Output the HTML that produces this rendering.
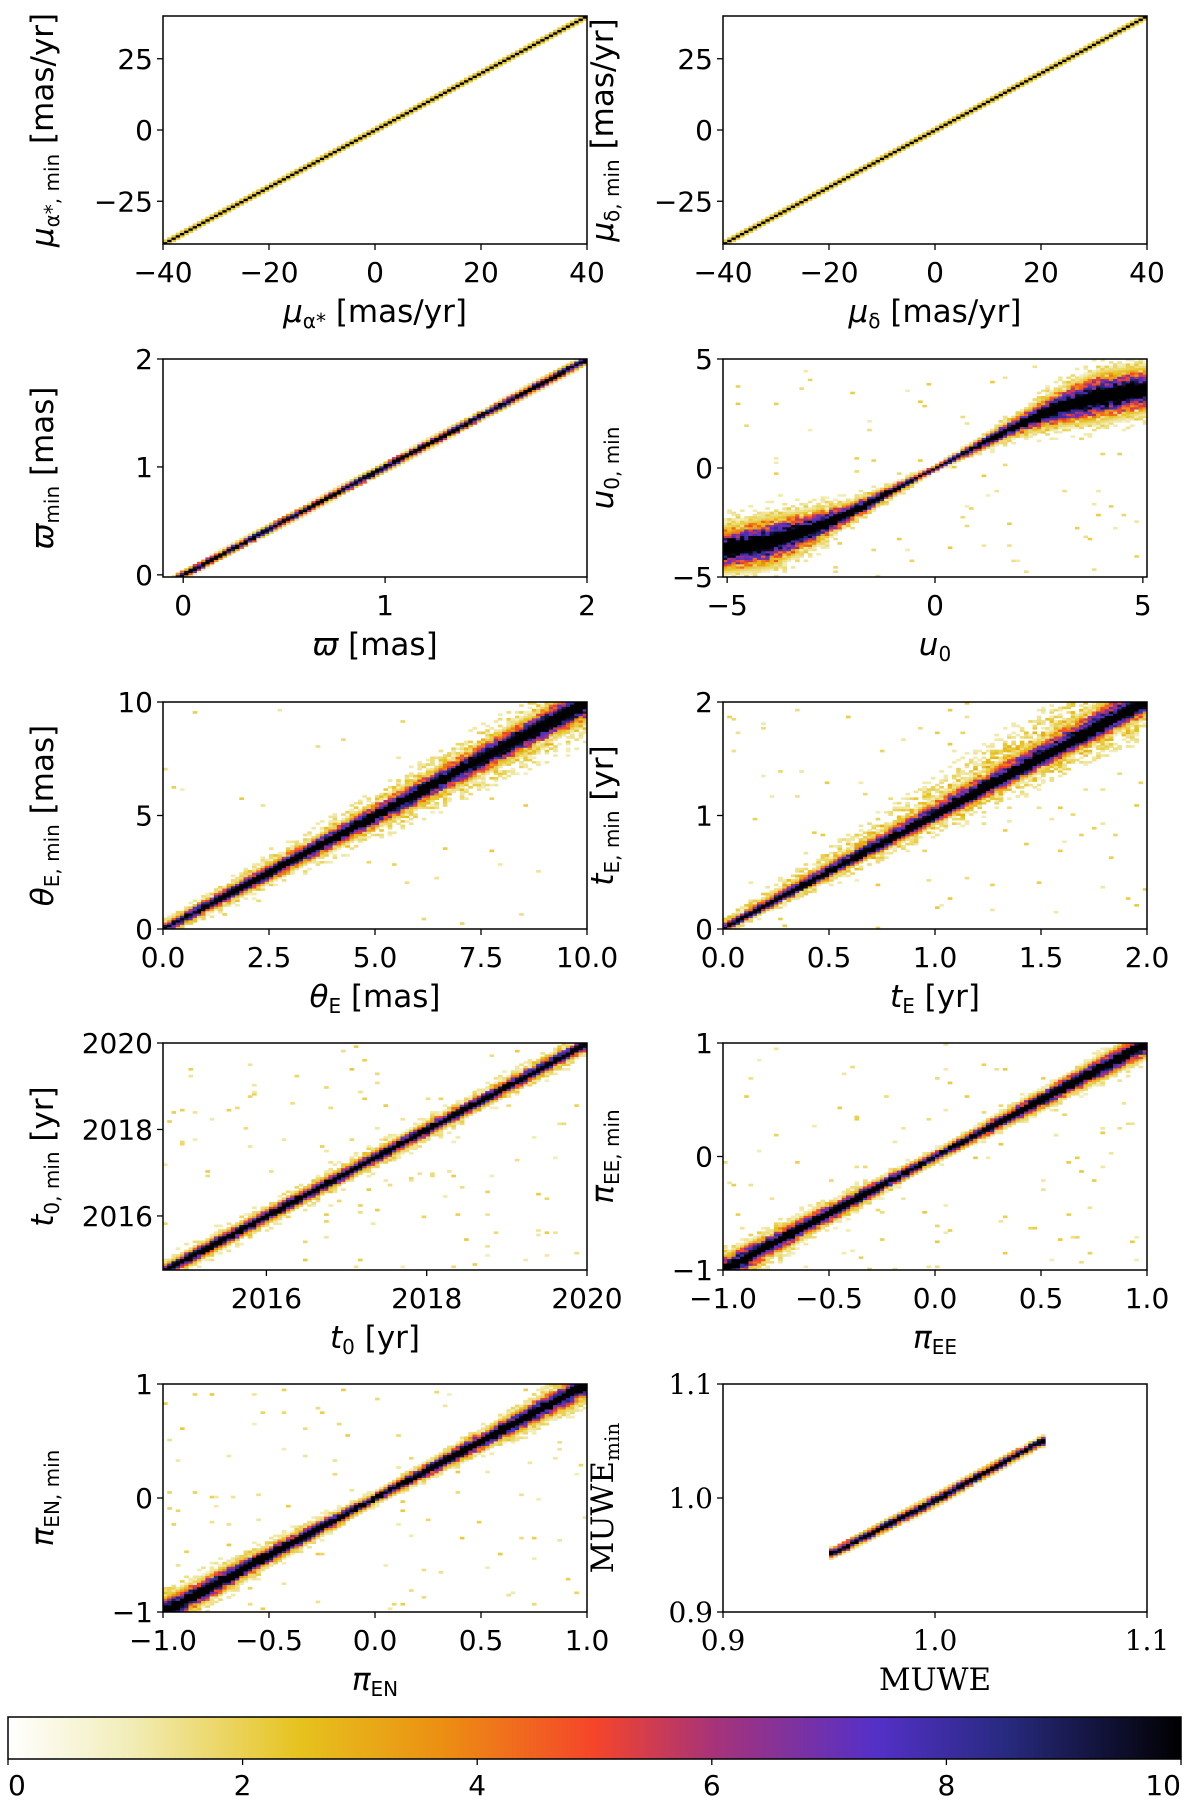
<!DOCTYPE html>
<html><head><meta charset="utf-8">
<style>
html,body{margin:0;padding:0;background:#fff;}
svg text{font-family:"DejaVu Sans","Liberation Sans",sans-serif;fill:#000;}
</style></head>
<body>
<svg id="fig" width="1200" height="1798" viewBox="0 0 1200 1798" xmlns="http://www.w3.org/2000/svg">
<defs>
<linearGradient id="cmap" x1="0" x2="1" y1="0" y2="0">
<stop offset="0" stop-color="#ffffff"/>
<stop offset="0.1" stop-color="#f2eebb"/>
<stop offset="0.25" stop-color="#e6c21e"/>
<stop offset="0.37" stop-color="#ec8f12"/>
<stop offset="0.5" stop-color="#f5452a"/>
<stop offset="0.6" stop-color="#a83378"/>
<stop offset="0.74" stop-color="#5430c8"/>
<stop offset="0.85" stop-color="#282a80"/>
<stop offset="1" stop-color="#000000"/>
</linearGradient>
</defs>
<g id="panels"></g>
<g>
<rect x="8" y="1717" width="1173" height="42" fill="url(#cmap)" stroke="#000" stroke-width="1.5"/>
<g id="cbticks"></g>
</g>
</svg>
<script>
// ---------- data ----------
const cbTicks = [0,2,4,6,8,10];

const p1Knots=[-40,40], p1Center=[-40,40], p1Core=[0.45,0.45], p1Halo=[1.0,1.0], p1Noise=0.0;
const p2Knots=[-40,40], p2Center=[-40,40], p2Core=[0.45,0.45], p2Halo=[1.0,1.0], p2Noise=0.0;
const p3Knots=[-0.1,0,2], p3Center=[-0.1,0,2], p3Core=[0.022,0.022,0.026], p3Halo=[0.05,0.05,0.06], p3Noise=0.0;
const p4Knots=[-5,-4,-3,-2,-1,0,1,2,3,4,5];
const p4Center=[-3.7,-3.4,-2.8,-2,-1,0,1,2,2.8,3.3,3.6];
const p4Core=[0.55,0.6,0.45,0.25,0.15,0.07,0.15,0.25,0.45,0.6,0.55];
const p4Halo=[1.9,1.9,1.5,0.9,0.5,0.25,0.5,0.9,1.5,1.9,1.9], p4Noise=0.01;
const p5Knots=[0,10], p5Center=[0,10], p5Core=[0.15,0.45], p5Halo=[0.5,2.0], p5Noise=0.003;
const p6Knots=[0,2], p6Center=[0,2], p6Core=[0.018,0.065], p6Halo=[0.07,0.35], p6Noise=0.01;
const p7Knots=[2014.7,2020], p7Center=[2014.7,2020], p7Core=[0.1,0.1], p7Halo=[0.38,0.38], p7Noise=0.012;
const p8Knots=[-1,0,1], p8Center=[-1,0,1], p8Core=[0.07,0.028,0.065], p8Halo=[0.26,0.08,0.2], p8Noise=0.01;
const p9Knots=[-1,0,1], p9Center=[-1,0,1], p9Core=[0.07,0.028,0.07], p9Halo=[0.26,0.08,0.24], p9Noise=0.01;
const p10Knots=[0.952,1.0,1.05], p10Center=[0.952,0.998,1.05], p10Core=[0.0025,0.003,0.0025], p10Halo=[0.006,0.006,0.006], p10Noise=0.0;

const tick40=[-40,-20,0,20,40], tickY25=[-25,0,25];
const tick02=[0,1,2], tick5=[-5,0,5], tick10=[0,2.5,5,7.5,10], tick10y=[0,5,10];
const tick2=[0,0.5,1,1.5,2], tick2y=[0,1,2], tickT=[2016,2018,2020], tickPi=[-1,-0.5,0,0.5,1], tickPiY=[-1,0,1];
const tickMu=[0.9,1.0,1.1];

// ---------- layout ----------
const L=[163,587], R=[723,1147];
const rows=[[16,244],[359,577],[702,929],[1043,1270],[1384,1612]];
const svgNS="http://www.w3.org/2000/svg";
function el(tag,attrs,parent){const e=document.createElementNS(svgNS,tag);for(const k in attrs)e.setAttribute(k,attrs[k]);parent.appendChild(e);return e;}

const cstops=[[0,[255,255,255]],[1,[242,238,187]],[2.5,[230,194,30]],[3.7,[236,143,18]],[5,[245,69,42]],[6,[168,51,120]],[7.4,[84,48,200]],[8.5,[40,42,128]],[10,[0,0,0]]];
function cmap(v){v=Math.max(0,Math.min(10,v));for(let i=1;i<cstops.length;i++){if(v<=cstops[i][0]){const a=cstops[i-1],b=cstops[i];const t=(v-a[0])/(b[0]-a[0]);return 'rgb('+a[1].map((c,k)=>Math.round(c+(b[1][k]-c)*t)).join(',')+')';}}return '#000';}
function interp(xs,ys,x){if(x<=xs[0])return ys[0];for(let i=1;i<xs.length;i++){if(x<=xs[i]){const t=(x-xs[i-1])/(xs[i]-xs[i-1]);return ys[i-1]+(ys[i]-ys[i-1])*t;}}return ys[ys.length-1];}
function hash(i,j,s){let h=(i*374761393+j*668265263+s*2147483647)|0;h=(h^(h>>>13))*1274126177|0;h=h^(h>>>16);return ((h>>>0)%10000)/10000;}

const panels=[
 {name:'mu-alpha',px:L,py:rows[0],xd:[-40,40],yd:[-40,40],xt:tick40,yt:tickY25,knots:p1Knots,center:p1Center,core:p1Core,halo:p1Halo,noise:p1Noise,
  xl:'<tspan font-style="italic">μ</tspan><tspan font-size="20" dy="6">α*</tspan><tspan dy="-6"> [mas/yr]</tspan>',
  yl:'<tspan font-style="italic">μ</tspan><tspan font-size="20" dy="6">α*, min</tspan><tspan dy="-6"> [mas/yr]</tspan>'},
 {name:'mu-delta',px:R,py:rows[0],xd:[-40,40],yd:[-40,40],xt:tick40,yt:tickY25,knots:p2Knots,center:p2Center,core:p2Core,halo:p2Halo,noise:p2Noise,
  xl:'<tspan font-style="italic">μ</tspan><tspan font-size="20" dy="6">δ</tspan><tspan dy="-6"> [mas/yr]</tspan>',
  yl:'<tspan font-style="italic">μ</tspan><tspan font-size="20" dy="6">δ, min</tspan><tspan dy="-6"> [mas/yr]</tspan>'},
 {name:'parallax',px:L,py:rows[1],xd:[-0.1,2],yd:[-0.02,2],xt:tick02,yt:tick02,knots:p3Knots,center:p3Center,core:p3Core,halo:p3Halo,noise:p3Noise,
  xl:'<tspan font-style="italic">ϖ</tspan><tspan> [mas]</tspan>',
  yl:'<tspan font-style="italic">ϖ</tspan><tspan font-size="20" dy="6">min</tspan><tspan dy="-6"> [mas]</tspan>'},
 {name:'u0',px:R,py:rows[1],xd:[-5.1,5.1],yd:[-5,5],xt:tick5,yt:tick5,knots:p4Knots,center:p4Center,core:p4Core,halo:p4Halo,noise:p4Noise,
  xl:'<tspan font-style="italic">u</tspan><tspan font-size="20" dy="6">0</tspan>',
  yl:'<tspan font-style="italic">u</tspan><tspan font-size="20" dy="6">0, min</tspan>'},
 {name:'theta-e',px:L,py:rows[2],xd:[0,10],yd:[0,10],xt:tick10,yt:tick10y,knots:p5Knots,center:p5Center,core:p5Core,halo:p5Halo,noise:p5Noise,dec:1,
  xl:'<tspan font-style="italic">θ</tspan><tspan font-size="20" dy="6">E</tspan><tspan dy="-6"> [mas]</tspan>',
  yl:'<tspan font-style="italic">θ</tspan><tspan font-size="20" dy="6">E, min</tspan><tspan dy="-6"> [mas]</tspan>'},
 {name:'t-e',px:R,py:rows[2],xd:[0,2],yd:[0,2],xt:tick2,yt:tick2y,knots:p6Knots,center:p6Center,core:p6Core,halo:p6Halo,noise:p6Noise,dec:1,up:1.8,
  xl:'<tspan font-style="italic">t</tspan><tspan font-size="20" dy="6">E</tspan><tspan dy="-6"> [yr]</tspan>',
  yl:'<tspan font-style="italic">t</tspan><tspan font-size="20" dy="6">E, min</tspan><tspan dy="-6"> [yr]</tspan>'},
 {name:'t0',px:L,py:rows[3],xd:[2014.71,2020],yd:[2014.75,2020],xt:tickT,yt:tickT,knots:p7Knots,center:p7Center,core:p7Core,halo:p7Halo,noise:p7Noise,
  xl:'<tspan font-style="italic">t</tspan><tspan font-size="20" dy="6">0</tspan><tspan dy="-6"> [yr]</tspan>',
  yl:'<tspan font-style="italic">t</tspan><tspan font-size="20" dy="6">0, min</tspan><tspan dy="-6"> [yr]</tspan>'},
 {name:'pi-ee',px:R,py:rows[3],xd:[-1,1],yd:[-1,1],xt:tickPi,yt:tickPiY,knots:p8Knots,center:p8Center,core:p8Core,halo:p8Halo,noise:p8Noise,dec:1,
  xl:'<tspan font-style="italic">π</tspan><tspan font-size="20" dy="6">EE</tspan>',
  yl:'<tspan font-style="italic">π</tspan><tspan font-size="20" dy="6">EE, min</tspan>'},
 {name:'pi-en',px:L,py:rows[4],xd:[-1,1],yd:[-1,1],xt:tickPi,yt:tickPiY,knots:p9Knots,center:p9Center,core:p9Core,halo:p9Halo,noise:p9Noise,dec:1,
  xl:'<tspan font-style="italic">π</tspan><tspan font-size="20" dy="6">EN</tspan>',
  yl:'<tspan font-style="italic">π</tspan><tspan font-size="20" dy="6">EN, min</tspan>'},
 {name:'muwe',px:R,py:rows[4],xd:[0.9,1.1],yd:[0.9,1.1],xt:tickMu,yt:tickMu,knots:p10Knots,center:p10Center,core:p10Core,halo:p10Halo,noise:p10Noise,dec:1,serif:1,limited:1,
  xl:'MUWE',yl:'MUWE<tspan font-size="20" dy="6">min</tspan>'}
];

const root=document.getElementById('panels');
panels.forEach((p,pi)=>{
  const g=el('g',{},root);
  
  
  const [x0,x1]=p.px,[y0,y1]=p.py;
  const sx=v=>x0+(v-p.xd[0])/(p.xd[1]-p.xd[0])*(x1-x0);
  const sy=v=>y1-(v-p.yd[0])/(p.yd[1]-p.yd[0])*(y1-y0);
  const cid='clip'+pi;
  const cp=el('clipPath',{id:cid},g);el('rect',{x:x0,y:y0,width:x1-x0,height:y1-y0},cp);
  const hg=el('g',{'clip-path':'url(#'+cid+')'},g);
  
  
  const N=100, dx=(p.xd[1]-p.xd[0])/N, dy=(p.yd[1]-p.yd[0])/N;
  const kmin=p.knots[0],kmax=p.knots[p.knots.length-1];
  for(let i=0;i<N;i++){
    const xv=p.xd[0]+(i+0.5)*dx;
    const inBand=!(p.limited&&(xv<kmin-dx||xv>kmax+dx));
    const yc=interp(p.knots,p.center,xv),cw=interp(p.knots,p.core,xv),hw=interp(p.knots,p.halo,xv);
    for(let j=0;j<N;j++){
      const yv=p.yd[0]+(j+0.5)*dy;
      let d=yv-yc; if(p.up&&d>0) d/=p.up; d=Math.abs(d);
      const eff=Math.max(cw,dy*0.45);
      let v=inBand?11*Math.exp(-0.5*(d/eff)*(d/eff)):0;
      const r1=hash(i,j,pi+1),r2=hash(j,i,pi+7);
      if(v>2.5&&v<9.5) v+=(r2-0.5)*4;
      if(v<1.5){
        const h=d/hw;
        if(inBand&&h<1&&r1<0.95*Math.pow(1-h,0.7)) v=Math.max(v,1+4*r2*(1-h));
        else if(r1<p.noise) v=1+1.2*r2;
      }
      if(v<0.8) continue;
      const r=el('rect',{x:sx(xv-dx/2).toFixed(2),y:sy(yv+dy/2).toFixed(2),width:((x1-x0)/N+0.4).toFixed(2),height:((y1-y0)/N+0.4).toFixed(2),fill:cmap(v)},hg);
      
      
    }
  }
  const fr=el('rect',{x:x0,y:y0,width:x1-x0,height:y1-y0,fill:'none',stroke:'#000','stroke-width':1.5},g);
  
  
  const ff=p.serif?'"DejaVu Serif","Liberation Serif",serif':'"DejaVu Sans","Liberation Sans",sans-serif';
  p.xt.forEach(v=>{
    const X=sx(v);
    el('line',{x1:X,x2:X,y1:y1,y2:y1+6,stroke:'#000','stroke-width':1.3},g);
    const t=el('text',{x:X,y:y1+38,'text-anchor':'middle','font-size':28,style:'font-family:'+ff},g);
    t.textContent=(p.dec?v.toFixed(1):String(v)).replace('-','−');
    
    
  });
  p.yt.forEach(v=>{
    const Y=sy(v);
    el('line',{x1:x0-6,x2:x0,y1:Y,y2:Y,stroke:'#000','stroke-width':1.3},g);
    const t=el('text',{x:x0-10,y:Y+10,'text-anchor':'end','font-size':28,style:'font-family:'+ff},g);
    t.textContent=((p.name==='muwe')?v.toFixed(1):String(v)).replace('-','−');
    
    
  });
  const xl=el('text',{x:(x0+x1)/2,y:y1+78,'text-anchor':'middle','font-size':31,style:'font-family:'+ff},g);
  xl.innerHTML=p.xl;
  
  
  const lx=x0-110, ly=(y0+y1)/2;
  const yl=el('text',{x:lx,y:ly,'text-anchor':'middle','font-size':31,transform:'rotate(-90 '+lx+' '+ly+')',style:'font-family:'+ff},g);
  yl.innerHTML=p.yl;
  
  
});

// colorbar ticks
const cbg=document.getElementById('cbticks');
const cbx=v=>8+v/10*1173;
cbTicks.forEach(v=>{
  const X=cbx(v);
  el('line',{x1:X,x2:X,y1:1759,y2:1765,stroke:'#000','stroke-width':1.3},cbg);
  const t=el('text',{x:Math.min(X,1182),y:1795,'text-anchor':v===10?'end':(v===0?'start':'middle'),'font-size':28},cbg);
  t.textContent=String(v);
  
  
});
</script>
</body></html>
